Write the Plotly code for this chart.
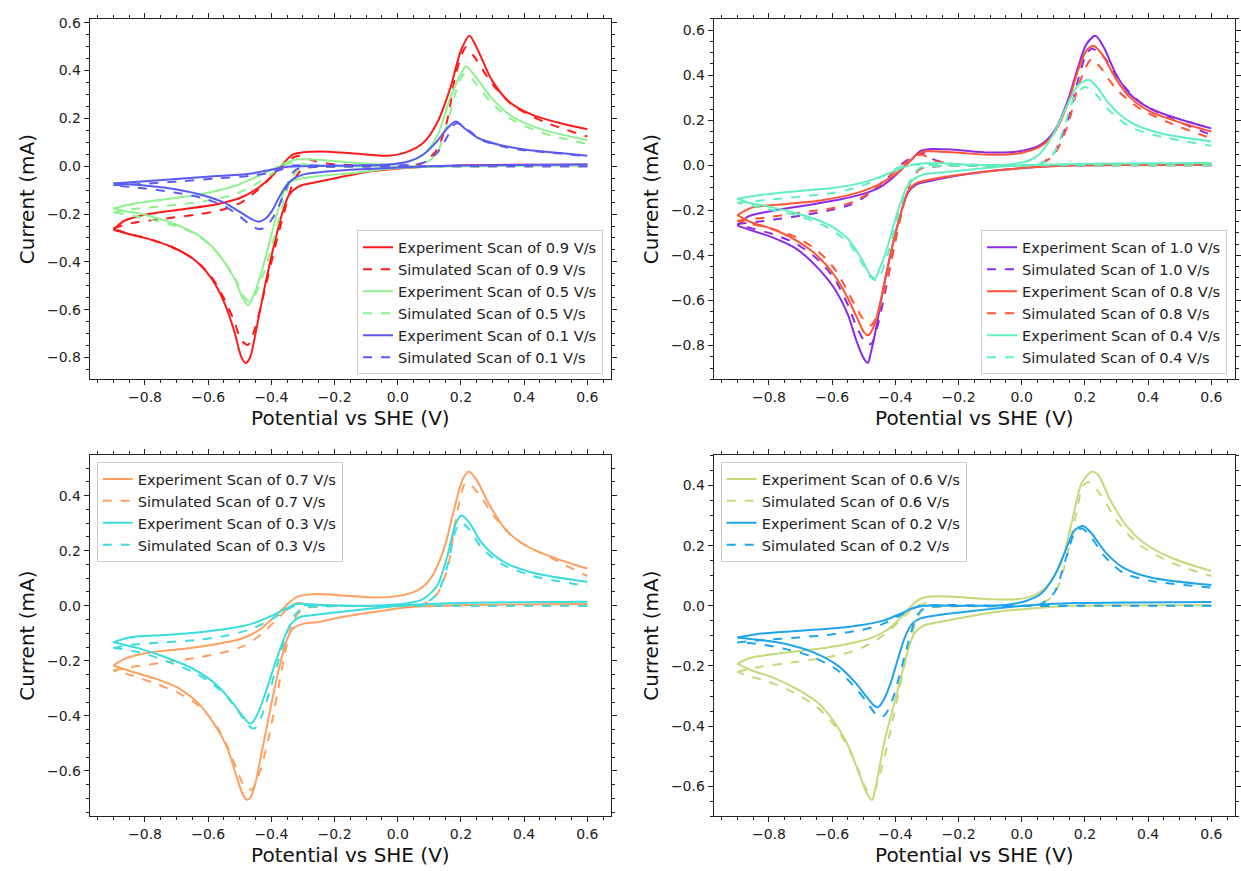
import plotly.graph_objects as go

# ---------------- data: potential (V vs SHE) and current (mA) ----------------
# Each loop: cathodic sweep from 0.6 V down to -0.9 V, then anodic sweep back to 0.6 V.

# ---- panel 1: 0.9, 0.5, 0.1 V/s
V_exp_09 = [0.6, 0.189, 0.026, -0.083, -0.191, -0.267, -0.311, -0.343, -0.365, -0.392, -0.42, -0.447, -0.468, -0.482,
            -0.496, -0.517, -0.55, -0.593, -0.648, -0.713, -0.789, -0.865, -0.9,
            -0.865, -0.789, -0.68, -0.572, -0.496, -0.441, -0.398, -0.365, -0.333, -0.3, -0.246, -0.137, -0.028, 0.026,
            0.08, 0.124, 0.167, 0.2, 0.227, 0.254, 0.298, 0.352, 0.428, 0.515, 0.6]
I_exp_09 = [0.007, 0.003, -0.007, -0.021, -0.048, -0.069, -0.083, -0.118, -0.194, -0.332, -0.498, -0.678, -0.802, -0.823,
            -0.795, -0.692, -0.567, -0.463, -0.387, -0.339, -0.304, -0.279, -0.266,
            -0.228, -0.2, -0.18, -0.159, -0.131, -0.09, -0.041, 0.007, 0.048, 0.058, 0.062, 0.053, 0.044, 0.058,
            0.097, 0.18, 0.33, 0.484, 0.546, 0.484, 0.36, 0.27, 0.214, 0.18, 0.155]

V_sim_09 = [0.6, 0.2, -0.1, -0.246, -0.3, -0.327, -0.354, -0.387, -0.42, -0.452, -0.474, -0.496, -0.517, -0.55, -0.593,
            -0.648, -0.713, -0.789, -0.865, -0.9,
            -0.843, -0.735, -0.626, -0.55, -0.496, -0.441, -0.387, -0.343, -0.311, -0.278, -0.224, -0.137, 0.026, 0.08,
            0.124, 0.157, 0.184, 0.216, 0.243, 0.298, 0.363, 0.461, 0.6]
I_sim_09 = [0.0, 0.0, -0.001, -0.003, -0.011, -0.055, -0.166, -0.332, -0.512, -0.678, -0.747, -0.726, -0.65, -0.553, -0.456,
            -0.387, -0.339, -0.304, -0.277, -0.26,
            -0.238, -0.219, -0.2, -0.18, -0.152, -0.097, -0.028, 0.028, 0.044, 0.028, 0.011, 0.004, 0.003, 0.014,
            0.069, 0.194, 0.387, 0.498, 0.456, 0.346, 0.256, 0.187, 0.124]

V_exp_05 = [0.6, 0.08, -0.028, -0.137, -0.246, -0.311, -0.343, -0.365, -0.387, -0.414, -0.441, -0.463, -0.474, -0.49,
            -0.517, -0.572, -0.626, -0.68, -0.735, -0.811, -0.865, -0.9,
            -0.843, -0.735, -0.626, -0.517, -0.441, -0.398, -0.354, -0.322, -0.267, -0.137, -0.028, 0.026, 0.08, 0.124,
            0.167, 0.2, 0.216, 0.243, 0.298, 0.363, 0.461, 0.6]
I_exp_05 = [0.003, -0.003, -0.011, -0.028, -0.041, -0.053, -0.069, -0.124, -0.221, -0.36, -0.484, -0.56, -0.581, -0.553,
            -0.47, -0.36, -0.293, -0.256, -0.228, -0.2, -0.187, -0.177,
            -0.159, -0.138, -0.118, -0.083, -0.041, -0.014, 0.014, 0.028, 0.028, 0.014, 0.007, 0.017, 0.048, 0.124,
            0.29, 0.387, 0.418, 0.38, 0.284, 0.207, 0.152, 0.11]

V_sim_05 = [0.6, 0.2, -0.1, -0.246, -0.311, -0.338, -0.365, -0.398, -0.43, -0.458, -0.472, -0.49, -0.517, -0.572, -0.626,
            -0.68, -0.789, -0.865, -0.9,
            -0.843, -0.735, -0.626, -0.517, -0.441, -0.387, -0.354, -0.327, -0.289, -0.191, 0.026, 0.08, 0.124, 0.157,
            0.189, 0.211, 0.238, 0.298, 0.363, 0.461, 0.6]
I_sim_05 = [0.0, 0.0, -0.001, -0.003, -0.011, -0.055, -0.166, -0.332, -0.47, -0.553, -0.564, -0.539, -0.463, -0.36, -0.297,
            -0.26, -0.221, -0.2, -0.194,
            -0.18, -0.166, -0.149, -0.118, -0.069, -0.021, 0.007, 0.017, 0.007, 0.0, 0.0, 0.007, 0.055, 0.18,
            0.332, 0.387, 0.36, 0.263, 0.194, 0.138, 0.093]

V_exp_01 = [0.6, 0.189, -0.028, -0.137, -0.246, -0.3, -0.333, -0.354, -0.376, -0.398, -0.42, -0.441, -0.463, -0.496,
            -0.55, -0.626, -0.735, -0.843, -0.9,
            -0.789, -0.68, -0.572, -0.463, -0.398, -0.354, -0.3, -0.137, -0.028, 0.037, 0.08, 0.124, 0.157, 0.184,
            0.211, 0.254, 0.32, 0.407, 0.515, 0.6]
I_exp_01 = [0.007, 0.003, -0.007, -0.014, -0.025, -0.035, -0.055, -0.083, -0.131, -0.187, -0.221, -0.232, -0.221, -0.194,
            -0.152, -0.118, -0.09, -0.076, -0.072,
            -0.062, -0.051, -0.041, -0.03, -0.014, -0.003, 0.0, 0.003, 0.007, 0.021, 0.048, 0.104, 0.159, 0.187,
            0.159, 0.118, 0.09, 0.069, 0.055, 0.044]

V_sim_01 = [0.6, 0.2, -0.246, -0.311, -0.333, -0.354, -0.376, -0.398, -0.42, -0.439, -0.463, -0.496, -0.55, -0.626,
            -0.735, -0.843, -0.9,
            -0.789, -0.68, -0.572, -0.463, -0.398, -0.354, -0.333, -0.246, -0.028, 0.08, 0.124, 0.157, 0.178, 0.189,
            0.222, 0.265, 0.33, 0.407, 0.515, 0.6]
I_sim_01 = [0.0, 0.0, -0.003, -0.007, -0.028, -0.097, -0.166, -0.221, -0.256, -0.263, -0.249, -0.214, -0.166, -0.131,
            -0.104, -0.087, -0.08,
            -0.072, -0.062, -0.051, -0.039, -0.025, -0.007, 0.003, 0.003, 0.003, 0.014, 0.055, 0.124, 0.173, 0.18,
            0.152, 0.11, 0.083, 0.066, 0.053, 0.041]

# ---- panel 2: 1.0, 0.8, 0.4 V/s
V_exp_10 = [0.6, 0.167, 0.004, -0.104, -0.213, -0.289, -0.333, -0.36, -0.382, -0.409, -0.436, -0.463, -0.479, -0.487,
            -0.501, -0.523, -0.55, -0.593, -0.648, -0.713, -0.789, -0.854, -0.9,
            -0.865, -0.789, -0.68, -0.572, -0.507, -0.452, -0.409, -0.376, -0.349, -0.322, -0.289, -0.213, -0.104,
            -0.007, 0.059, 0.102, 0.146, 0.178, 0.205, 0.233, 0.26, 0.298, 0.341, 0.407, 0.493, 0.6]
I_exp_10 = [0.003, 0.0, -0.012, -0.026, -0.048, -0.07, -0.085, -0.122, -0.21, -0.356, -0.532, -0.738, -0.84, -0.877,
            -0.855, -0.78, -0.664, -0.547, -0.452, -0.371, -0.32, -0.29, -0.268,
            -0.227, -0.202, -0.177, -0.151, -0.129, -0.1, -0.056, -0.012, 0.025, 0.062, 0.072, 0.069, 0.057,
            0.062, 0.091, 0.15, 0.289, 0.435, 0.538, 0.575, 0.523, 0.406, 0.318, 0.252, 0.208, 0.164]

V_sim_10 = [0.6, 0.2, -0.1, -0.267, -0.322, -0.349, -0.376, -0.403, -0.43, -0.458, -0.474, -0.485, -0.501, -0.523, -0.55,
            -0.593, -0.648, -0.713, -0.789, -0.854, -0.9,
            -0.811, -0.702, -0.593, -0.539, -0.485, -0.43, -0.376, -0.333, -0.311, -0.278, -0.224, -0.159, 0.004,
            0.059, 0.102, 0.146, 0.178, 0.205, 0.222, 0.26, 0.309, 0.374, 0.472, 0.6]
I_sim_10 = [0.0, 0.0, -0.001, -0.004, -0.016, -0.063, -0.18, -0.356, -0.547, -0.723, -0.789, -0.796, -0.774, -0.716, -0.62,
            -0.503, -0.415, -0.349, -0.305, -0.28, -0.261,
            -0.246, -0.224, -0.195, -0.173, -0.129, -0.063, 0.01, 0.047, 0.054, 0.025, 0.007, 0.0, 0.0,
            0.007, 0.054, 0.2, 0.377, 0.495, 0.518, 0.48, 0.377, 0.281, 0.208, 0.135]

V_exp_08 = [0.6, 0.167, 0.004, -0.104, -0.213, -0.289, -0.333, -0.36, -0.382, -0.409, -0.436, -0.463, -0.479, -0.487,
            -0.501, -0.523, -0.55, -0.593, -0.648, -0.713, -0.789, -0.854, -0.9,
            -0.854, -0.757, -0.648, -0.539, -0.463, -0.409, -0.365, -0.333, -0.3, -0.213, -0.104, -0.007, 0.059,
            0.102, 0.146, 0.178, 0.205, 0.227, 0.254, 0.298, 0.341, 0.407, 0.493, 0.6]
I_exp_08 = [0.003, 0.0, -0.012, -0.026, -0.045, -0.063, -0.078, -0.114, -0.21, -0.356, -0.532, -0.694, -0.745, -0.755,
            -0.738, -0.672, -0.591, -0.488, -0.4, -0.334, -0.283, -0.254, -0.221,
            -0.188, -0.173, -0.158, -0.129, -0.092, -0.048, 0.003, 0.047, 0.062, 0.057, 0.047, 0.054, 0.084,
            0.142, 0.274, 0.421, 0.509, 0.531, 0.494, 0.384, 0.304, 0.238, 0.194, 0.15]

V_sim_08 = [0.6, 0.2, -0.1, -0.267, -0.322, -0.349, -0.376, -0.403, -0.43, -0.458, -0.474, -0.479, -0.496, -0.523, -0.55,
            -0.593, -0.648, -0.713, -0.789, -0.854, -0.9,
            -0.811, -0.702, -0.593, -0.528, -0.474, -0.42, -0.376, -0.338, -0.316, -0.278, -0.213, 0.004, 0.059,
            0.102, 0.146, 0.178, 0.211, 0.222, 0.249, 0.298, 0.374, 0.472, 0.6]
I_sim_08 = [0.0, 0.0, -0.001, -0.004, -0.016, -0.063, -0.188, -0.356, -0.532, -0.664, -0.708, -0.711, -0.694, -0.635,
            -0.562, -0.459, -0.378, -0.32, -0.283, -0.261, -0.246,
            -0.232, -0.21, -0.188, -0.158, -0.114, -0.048, 0.003, 0.04, 0.047, 0.022, 0.006, 0.0, 0.007,
            0.047, 0.179, 0.348, 0.457, 0.472, 0.435, 0.34, 0.252, 0.186, 0.12]

V_exp_04 = [0.6, 0.167, -0.05, -0.159, -0.246, -0.311, -0.343, -0.365, -0.387, -0.409, -0.43, -0.452, -0.465, -0.479,
            -0.507, -0.55, -0.615, -0.702, -0.811, -0.865, -0.9,
            -0.811, -0.702, -0.593, -0.507, -0.441, -0.387, -0.343, -0.289, -0.159, -0.05, 0.015, 0.059, 0.102,
            0.146, 0.178, 0.211, 0.238, 0.276, 0.341, 0.439, 0.6]
I_exp_04 = [0.01, 0.006, -0.004, -0.019, -0.031, -0.041, -0.063, -0.1, -0.18, -0.283, -0.386, -0.466, -0.503, -0.488,
            -0.415, -0.327, -0.261, -0.217, -0.18, -0.166, -0.148,
            -0.129, -0.114, -0.1, -0.078, -0.048, -0.016, 0.003, 0.01, 0.003, 0.003, 0.018, 0.054, 0.142,
            0.274, 0.355, 0.38, 0.348, 0.274, 0.194, 0.142, 0.106]

V_sim_04 = [0.6, 0.2, -0.1, -0.267, -0.322, -0.349, -0.376, -0.403, -0.425, -0.447, -0.461, -0.479, -0.507, -0.55,
            -0.615, -0.702, -0.811, -0.9,
            -0.811, -0.702, -0.593, -0.507, -0.441, -0.387, -0.354, -0.322, -0.05, 0.059, 0.102, 0.135, 0.167, 0.2,
            0.233, 0.276, 0.341, 0.439, 0.6]
I_sim_04 = [0.0, 0.0, -0.001, -0.004, -0.011, -0.056, -0.151, -0.283, -0.4, -0.488, -0.51, -0.496, -0.43, -0.342,
            -0.276, -0.227, -0.192, -0.166,
            -0.154, -0.139, -0.122, -0.092, -0.048, -0.007, 0.003, 0.002, 0.0, 0.007, 0.054, 0.172, 0.304, 0.348,
            0.318, 0.245, 0.172, 0.128, 0.087]

# ---- panel 3: 0.7, 0.3 V/s
V_exp_07 = [0.6, 0.189, 0.026, -0.083, -0.18, -0.257, -0.3, -0.333, -0.354, -0.376, -0.403, -0.43, -0.452, -0.468,
            -0.477, -0.49, -0.512, -0.539, -0.572, -0.626, -0.691, -0.767, -0.843, -0.9,
            -0.865, -0.789, -0.68, -0.572, -0.496, -0.441, -0.387, -0.343, -0.316, -0.267, -0.191, -0.083, -0.007,
            0.059, 0.102, 0.146, 0.178, 0.205, 0.225, 0.249, 0.287, 0.341, 0.407, 0.493, 0.6]
I_exp_07 = [0.006, 0.002, -0.006, -0.024, -0.042, -0.06, -0.066, -0.084, -0.133, -0.229, -0.373, -0.53, -0.651, -0.699,
            -0.705, -0.687, -0.614, -0.518, -0.446, -0.361, -0.301, -0.265, -0.239, -0.217,
            -0.193, -0.171, -0.157, -0.139, -0.12, -0.09, -0.036, 0.012, 0.034, 0.042, 0.039, 0.03, 0.034,
            0.054, 0.096, 0.205, 0.349, 0.458, 0.488, 0.458, 0.373, 0.277, 0.217, 0.175, 0.135]

V_sim_07 = [0.6, 0.2, -0.1, -0.246, -0.3, -0.327, -0.354, -0.382, -0.409, -0.436, -0.458, -0.468, -0.485, -0.507, -0.539,
            -0.572, -0.626, -0.691, -0.767, -0.843, -0.9,
            -0.843, -0.735, -0.626, -0.55, -0.485, -0.43, -0.382, -0.343, -0.316, -0.289, -0.224, 0.026, 0.08, 0.124,
            0.157, 0.184, 0.211, 0.222, 0.254, 0.309, 0.374, 0.483, 0.6]
I_sim_07 = [0.0, 0.0, -0.001, -0.003, -0.012, -0.048, -0.157, -0.325, -0.482, -0.602, -0.663, -0.669, -0.657, -0.602,
            -0.512, -0.44, -0.367, -0.319, -0.283, -0.253, -0.235,
            -0.223, -0.205, -0.187, -0.169, -0.145, -0.102, -0.048, -0.006, 0.01, 0.006, 0.0, 0.0, 0.006, 0.042,
            0.133, 0.313, 0.44, 0.446, 0.41, 0.319, 0.241, 0.175, 0.108]

V_exp_03 = [0.6, 0.189, 0.026, -0.083, -0.191, -0.267, -0.311, -0.338, -0.36, -0.387, -0.414, -0.441, -0.458, -0.468,
            -0.485, -0.517, -0.572, -0.648, -0.735, -0.822, -0.876, -0.9,
            -0.843, -0.735, -0.626, -0.539, -0.463, -0.398, -0.354, -0.322, -0.246, -0.083, 0.026, 0.08, 0.124,
            0.157, 0.184, 0.203, 0.227, 0.265, 0.33, 0.428, 0.6]
I_exp_03 = [0.014, 0.01, 0.002, -0.01, -0.024, -0.034, -0.042, -0.066, -0.12, -0.205, -0.301, -0.386, -0.422, -0.428,
            -0.41, -0.361, -0.289, -0.229, -0.187, -0.154, -0.139, -0.133,
            -0.114, -0.106, -0.096, -0.084, -0.066, -0.036, -0.01, 0.006, 0.003, 0.0, 0.008, 0.024, 0.072,
            0.181, 0.301, 0.328, 0.301, 0.229, 0.163, 0.12, 0.087]

V_sim_03 = [0.6, 0.2, -0.1, -0.246, -0.3, -0.327, -0.354, -0.382, -0.409, -0.43, -0.447, -0.458, -0.474, -0.507, -0.561,
            -0.637, -0.724, -0.811, -0.876, -0.9,
            -0.843, -0.735, -0.626, -0.539, -0.463, -0.398, -0.354, -0.327, -0.246, 0.026, 0.08, 0.124, 0.157, 0.184,
            0.2, 0.227, 0.265, 0.33, 0.428, 0.6]
I_sim_03 = [0.0, 0.0, -0.001, -0.003, -0.008, -0.036, -0.108, -0.217, -0.325, -0.398, -0.44, -0.446, -0.434, -0.38,
            -0.307, -0.247, -0.205, -0.171, -0.157, -0.154,
            -0.142, -0.133, -0.123, -0.108, -0.084, -0.048, -0.018, 0.0, 0.0, 0.0, 0.006, 0.042, 0.145, 0.277,
            0.301, 0.277, 0.211, 0.151, 0.108, 0.072]

# ---- panel 4: 0.6, 0.2 V/s
V_exp_06 = [0.6, 0.168, 0.005, -0.104, -0.202, -0.267, -0.31, -0.338, -0.359, -0.381, -0.408, -0.435, -0.457, -0.468,
            -0.474, -0.49, -0.517, -0.55, -0.593, -0.648, -0.713, -0.789, -0.854, -0.9,
            -0.865, -0.756, -0.648, -0.561, -0.484, -0.43, -0.387, -0.354, -0.327, -0.289, -0.212, -0.104, -0.017,
            0.038, 0.081, 0.125, 0.158, 0.19, 0.223, 0.245, 0.277, 0.332, 0.386, 0.473, 0.6]
I_exp_06 = [0.002, 0.0, -0.011, -0.024, -0.042, -0.055, -0.066, -0.088, -0.144, -0.232, -0.343, -0.453, -0.575, -0.63,
            -0.646, -0.624, -0.552, -0.464, -0.387, -0.32, -0.276, -0.238, -0.215, -0.193,
            -0.175, -0.157, -0.144, -0.129, -0.11, -0.083, -0.044, -0.006, 0.02, 0.031, 0.03, 0.022, 0.022,
            0.035, 0.066, 0.144, 0.276, 0.409, 0.447, 0.431, 0.359, 0.265, 0.21, 0.16, 0.116]

V_sim_06 = [0.6, 0.2, -0.1, -0.267, -0.31, -0.332, -0.359, -0.387, -0.414, -0.441, -0.463, -0.471, -0.49, -0.517, -0.55,
            -0.593, -0.648, -0.724, -0.811, -0.876, -0.9,
            -0.833, -0.724, -0.615, -0.528, -0.463, -0.408, -0.365, -0.332, -0.299, -0.267, 0.005, 0.06, 0.103, 0.136,
            0.168, 0.196, 0.212, 0.245, 0.299, 0.364, 0.473, 0.6]
I_sim_06 = [0.0, 0.0, -0.001, -0.004, -0.011, -0.044, -0.144, -0.276, -0.409, -0.53, -0.608, -0.624, -0.613, -0.547,
            -0.47, -0.398, -0.337, -0.287, -0.249, -0.23, -0.219,
            -0.204, -0.188, -0.171, -0.149, -0.116, -0.072, -0.028, 0.0, 0.009, 0.002, 0.0, 0.006, 0.039, 0.133,
            0.287, 0.403, 0.411, 0.376, 0.287, 0.21, 0.144, 0.099]

V_exp_02 = [0.6, 0.168, 0.005, -0.104, -0.212, -0.278, -0.321, -0.348, -0.37, -0.392, -0.414, -0.435, -0.454, -0.468,
            -0.49, -0.528, -0.582, -0.659, -0.746, -0.833, -0.9,
            -0.811, -0.702, -0.593, -0.506, -0.441, -0.387, -0.348, -0.31, -0.158, -0.049, 0.016, 0.06, 0.103, 0.136,
            0.168, 0.196, 0.223, 0.266, 0.321, 0.408, 0.6]
I_exp_02 = [0.013, 0.009, 0.0, -0.011, -0.024, -0.033, -0.042, -0.061, -0.105, -0.177, -0.254, -0.309, -0.337, -0.331,
            -0.304, -0.254, -0.199, -0.155, -0.127, -0.113, -0.105,
            -0.091, -0.083, -0.075, -0.064, -0.05, -0.028, -0.009, 0.0, 0.0, 0.003, 0.017, 0.039, 0.099, 0.177,
            0.252, 0.265, 0.238, 0.177, 0.127, 0.094, 0.069]

V_sim_02 = [0.6, 0.2, -0.1, -0.267, -0.31, -0.332, -0.359, -0.387, -0.408, -0.43, -0.443, -0.463, -0.49, -0.528, -0.582,
            -0.659, -0.746, -0.833, -0.9,
            -0.811, -0.702, -0.593, -0.506, -0.441, -0.387, -0.348, -0.321, 0.005, 0.06, 0.103, 0.136, 0.168, 0.19,
            0.217, 0.261, 0.321, 0.408, 0.6]
I_sim_02 = [0.0, 0.0, -0.001, -0.002, -0.009, -0.033, -0.122, -0.232, -0.309, -0.359, -0.37, -0.359, -0.32, -0.271,
            -0.215, -0.171, -0.144, -0.127, -0.122,
            -0.113, -0.105, -0.094, -0.08, -0.061, -0.033, -0.011, 0.0, 0.0, 0.006, 0.044, 0.144, 0.243, 0.257,
            0.232, 0.166, 0.11, 0.083, 0.061]

# ---------------- styling ----------------
colors = {
    "1.0": "#8a2be8", "0.9": "#ff1a1a", "0.8": "#ff5533", "0.7": "#ffa060", "0.6": "#c6d97a",
    "0.5": "#8ef08e", "0.4": "#60f0c0", "0.3": "#3cdcdc", "0.2": "#1ea4ec", "0.1": "#5a5af5",
}

panels = [
    ("legend", [("0.9", V_exp_09, I_exp_09, V_sim_09, I_sim_09),
                ("0.5", V_exp_05, I_exp_05, V_sim_05, I_sim_05),
                ("0.1", V_exp_01, I_exp_01, V_sim_01, I_sim_01)]),
    ("legend2", [("1.0", V_exp_10, I_exp_10, V_sim_10, I_sim_10),
                 ("0.8", V_exp_08, I_exp_08, V_sim_08, I_sim_08),
                 ("0.4", V_exp_04, I_exp_04, V_sim_04, I_sim_04)]),
    ("legend3", [("0.7", V_exp_07, I_exp_07, V_sim_07, I_sim_07),
                 ("0.3", V_exp_03, I_exp_03, V_sim_03, I_sim_03)]),
    ("legend4", [("0.6", V_exp_06, I_exp_06, V_sim_06, I_sim_06),
                 ("0.2", V_exp_02, I_exp_02, V_sim_02, I_sim_02)]),
]

W, H = 1241, 871
boxes = [(90, 613, 15, 377), (716, 1239, 15, 377), (90, 613, 453, 816), (716, 1239, 453, 816)]
yranges = [(-0.891, 0.616), (-0.95, 0.65), (-0.765, 0.548), (-0.70, 0.502)]
xrange_ = (-0.975, 0.675)


def split_loop(v, i):
    k = v.index(min(v))
    return v[:k + 1] + [None] + v[k:], i[:k + 1] + [None] + i[k:]


fig = go.Figure()
layout = {}
for p, (leg, curves) in enumerate(panels):
    ax = "" if p == 0 else str(p + 1)
    for rate, ve, ie, vs, is_ in curves:
        c = colors[rate]
        x, y = split_loop(ve, ie)
        fig.add_trace(go.Scatter(x=x, y=y, mode="lines", connectgaps=False,
                                 line=dict(color=c, width=2, shape="spline", smoothing=0.8),
                                 name=f"Experiment Scan of {rate} V/s", legend=leg,
                                 legendgroup=f"e{rate}", xaxis="x" + ax, yaxis="y" + ax))
        x, y = split_loop(vs, is_)
        fig.add_trace(go.Scatter(x=x, y=y, mode="lines", connectgaps=False,
                                 line=dict(color=c, width=2, dash="dash", shape="spline", smoothing=0.8),
                                 name=f"Simulated Scan of {rate} V/s", legend=leg,
                                 legendgroup=f"s{rate}", xaxis="x" + ax, yaxis="y" + ax))

    l, r, t, b = boxes[p]
    common = dict(showline=True, linecolor="#222", linewidth=1, mirror="allticks", ticks="outside",
                  ticklen=5, tickwidth=1, tickcolor="#222", showgrid=False, zeroline=False,
                  tickfont=dict(family="DejaVu Sans", size=14, color="#222"),
                  title_font=dict(family="DejaVu Sans", size=20, color="#111"),
                  tickformat=".1f", dtick=0.2, tick0=0,
                  minor=dict(dtick=0.05, ticks="outside", ticklen=3, tickcolor="#222", showgrid=False))
    layout["xaxis" + ax] = dict(common, domain=[l / W, r / W], range=list(xrange_),
                                anchor="y" + ax, title=dict(text="Potential vs SHE (V)", standoff=6))
    layout["yaxis" + ax] = dict(common, domain=[1 - b / H, 1 - t / H], range=list(yranges[p]),
                                anchor="x" + ax, title=dict(text="Current (mA)", standoff=6))

legfont = dict(family="DejaVu Sans", size=14.6, color="#222")
legstyle = dict(bgcolor="rgba(255,255,255,0.85)", bordercolor="#cccccc", borderwidth=1,
                font=legfont, tracegroupgap=0, itemwidth=30)
layout["legend"] = dict(legstyle, x=605 / W, y=1 - 372 / H, xanchor="right", yanchor="bottom")
layout["legend2"] = dict(legstyle, x=1231 / W, y=1 - 372 / H, xanchor="right", yanchor="bottom")
layout["legend3"] = dict(legstyle, x=97 / W, y=1 - 460 / H, xanchor="left", yanchor="top")
layout["legend4"] = dict(legstyle, x=723 / W, y=1 - 460 / H, xanchor="left", yanchor="top")

fig.update_layout(**layout)
fig.update_layout(width=W, height=H, margin=dict(l=0, r=0, t=0, b=0),
                  paper_bgcolor="white", plot_bgcolor="white", showlegend=True,
                  font=dict(family="DejaVu Sans"))

fig.write_html("out.html")
